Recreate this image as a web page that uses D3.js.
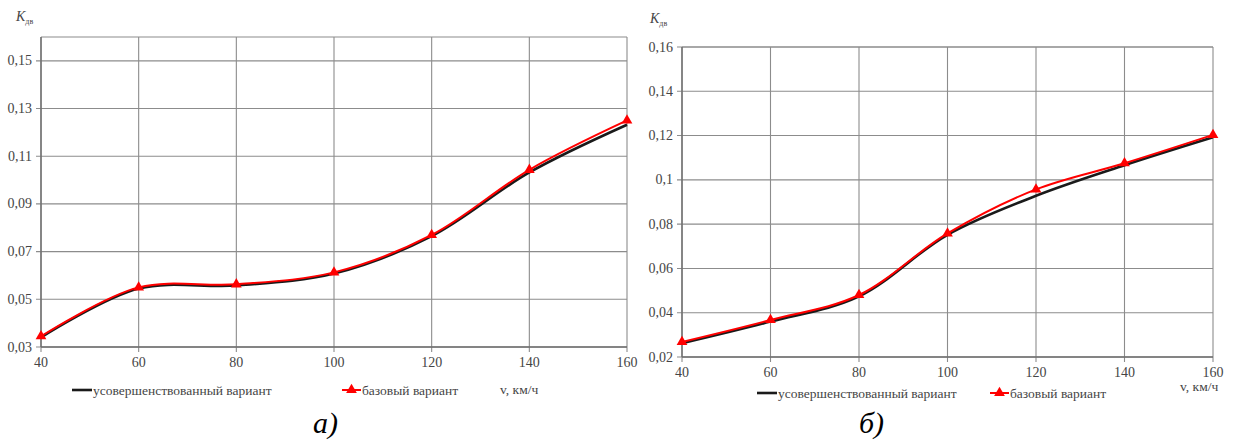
<!DOCTYPE html>
<html>
<head>
<meta charset="utf-8">
<script src="https://cdn.jsdelivr.net/npm/d3@7/dist/d3.min.js"></script>
<style>
  html, body { margin: 0; padding: 0; background: #fff; }
</style>
</head>
<body>
<svg id="chart" width="1238" height="441" font-family="Liberation Serif, DejaVu Serif, serif"></svg>
<script>
// Speed, km/h
const speeds = [40, 60, 80, 100, 120, 140, 160];

// Panel а): dynamic coefficient K_дв
const improvedA = [0.034, 0.0545, 0.0558, 0.0608, 0.0765, 0.1032, 0.1232];
const baseA     = [0.0345, 0.0550, 0.0563, 0.0613, 0.0770, 0.1043, 0.1250];
const yTicksA   = [0.03, 0.05, 0.07, 0.09, 0.11, 0.13, 0.15];
const yLabelsA  = ["0,03", "0,05", "0,07", "0,09", "0,11", "0,13", "0,15"];

// Panel б)
const improvedB = [0.0262, 0.0360, 0.0474, 0.0752, 0.0928, 0.1066, 0.1192];
const baseB     = [0.0268, 0.0367, 0.0480, 0.0758, 0.0957, 0.1075, 0.1203];
const yTicksB   = [0.02, 0.04, 0.06, 0.08, 0.10, 0.12, 0.14, 0.16];
const yLabelsB  = ["0,02", "0,04", "0,06", "0,08", "0,1", "0,12", "0,14", "0,16"];

const xLabels = ["40", "60", "80", "100", "120", "140", "160"];
const seriesNames = ["усовершенствованный вариант", "базовый вариант"];
const unitLabel = "v, км/ч";

const FONT = "'Liberation Serif', 'DejaVu Serif', serif";
const TXT = "#454545";

const svg = d3.select("#chart");
svg.append("rect").attr("width", 1238).attr("height", 441).attr("fill", "#fff");

function label(sel, size) {
  return sel.style("font-family", FONT).style("font-size", size + "px").style("fill", TXT);
}

function panel(o) {
  const g = svg.append("g");
  const x = d3.scaleLinear().domain([40, 160]).range([o.left, o.right]);
  const y = d3.scaleLinear().domain(o.yDomain).range([o.bottom, o.top]);

  // grid
  g.append("g").selectAll("line").data(o.yTicks).join("line")
    .attr("x1", o.left - 5).attr("x2", o.right)
    .attr("y1", d => y(d)).attr("y2", d => y(d))
    .attr("stroke", "#8c8c8c").attr("stroke-width", 1.1);
  g.append("line")
    .attr("x1", o.left).attr("x2", o.right)
    .attr("y1", o.top).attr("y2", o.top)
    .attr("stroke", "#8c8c8c").attr("stroke-width", 1.1);
  g.append("g").selectAll("line").data(speeds).join("line")
    .attr("x1", d => x(d)).attr("x2", d => x(d))
    .attr("y1", o.top).attr("y2", o.bottom + 5)
    .attr("stroke", "#8c8c8c").attr("stroke-width", 1.1);
  // axes
  g.append("line").attr("x1", o.left).attr("x2", o.left)
    .attr("y1", o.top).attr("y2", o.bottom)
    .attr("stroke", "#6e6e6e").attr("stroke-width", 1.4);
  g.append("line").attr("x1", o.left).attr("x2", o.right)
    .attr("y1", o.bottom).attr("y2", o.bottom)
    .attr("stroke", "#6e6e6e").attr("stroke-width", 1.4);

  // tick labels
  label(g.append("g").selectAll("text").data(o.yTicks).join("text"), 14)
    .attr("x", o.left - 9).attr("y", d => y(d) + 4.5)
    .attr("text-anchor", "end")
    .text((d, i) => o.yLabels[i]);
  label(g.append("g").selectAll("text").data(speeds).join("text"), 14)
    .attr("x", d => x(d)).attr("y", o.bottom + 20)
    .attr("text-anchor", "middle")
    .text((d, i) => xLabels[i]);

  // axis title K_дв
  const kt = label(g.append("text"), 14).attr("x", o.kx).attr("y", o.ky)
    .style("font-style", "italic");
  kt.append("tspan").text("K");
  kt.append("tspan").style("font-size", "8px").style("font-style", "normal")
    .attr("dy", 3).text("дв");

  const line = d3.line().x((d, i) => x(speeds[i])).y(d => y(d))
    .curve(d3.curveCatmullRom.alpha(0.5));

  g.append("path").datum(o.improved).attr("d", line)
    .attr("fill", "none").attr("stroke", "#1a1a1a").attr("stroke-width", 2.6);
  g.append("path").datum(o.base).attr("d", line)
    .attr("fill", "none").attr("stroke", "#ff0000").attr("stroke-width", 2);

  const tri = d3.symbol().type(d3.symbolTriangle).size(50);
  g.append("g").selectAll("path").data(o.base).join("path")
    .attr("transform", (d, i) => `translate(${x(speeds[i])},${y(d)})`)
    .attr("d", tri).attr("fill", "#ff0000");

  // legend
  const lg = g.append("g");
  lg.append("line").attr("x1", o.leg1).attr("x2", o.leg1 + 20)
    .attr("y1", o.legY).attr("y2", o.legY)
    .attr("stroke", "#1a1a1a").attr("stroke-width", 2.6);
  label(lg.append("text"), 13.5).attr("x", o.leg1 + 21).attr("y", o.legY + 4.5)
    .text(seriesNames[0]);
  lg.append("line").attr("x1", o.leg2).attr("x2", o.leg2 + 19)
    .attr("y1", o.legY).attr("y2", o.legY)
    .attr("stroke", "#ff0000").attr("stroke-width", 2);
  lg.append("path").attr("transform", `translate(${o.leg2 + 9.5},${o.legY})`)
    .attr("d", tri).attr("fill", "#ff0000");
  label(lg.append("text"), 13.5).attr("x", o.leg2 + 20).attr("y", o.legY + 4.5)
    .text(seriesNames[1]);
  label(lg.append("text"), 13.5).attr("x", o.unitX).attr("y", o.unitY)
    .text(unitLabel);

  // panel caption
  label(g.append("text"), 30).attr("x", o.capX).attr("y", 433)
    .style("font-style", "italic").style("fill", "#000").text(o.caption);
}

panel({
  left: 41, right: 627, top: 37, bottom: 347,
  yDomain: [0.03, 0.16], yTicks: yTicksA, yLabels: yLabelsA,
  improved: improvedA, base: baseA,
  kx: 16, ky: 21,
  leg1: 72, leg2: 342, legY: 390, unitX: 500, unitY: 394,
  capX: 313, caption: "а)"
});

panel({
  left: 682, right: 1213, top: 47, bottom: 357,
  yDomain: [0.02, 0.16], yTicks: yTicksB, yLabels: yLabelsB,
  improved: improvedB, base: baseB,
  kx: 650, ky: 23,
  leg1: 757, leg2: 990, legY: 393, unitX: 1180, unitY: 391,
  capX: 859, caption: "б)"
});
</script>
</body>
</html>
